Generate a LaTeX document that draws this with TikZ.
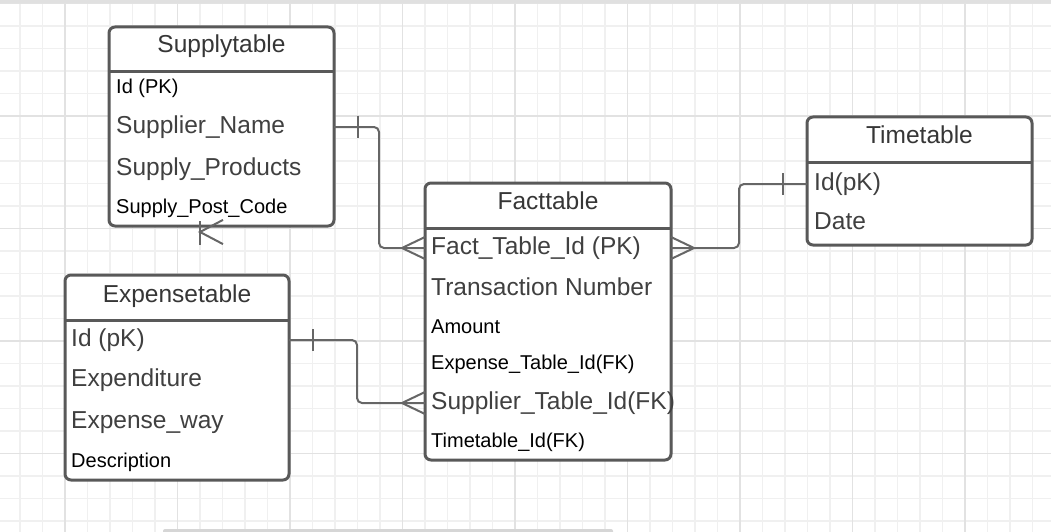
\documentclass[tikz,border=0pt]{standalone}
\usepackage{fontspec}
\setmainfont{Liberation Sans}
\usepackage{tikz}
\usetikzlibrary{%
  calc,%
  positioning% wg. " of "
}
\definecolor{boxgray}{HTML}{595959}
\definecolor{linkgray}{HTML}{666666}
\definecolor{headgray}{HTML}{363636}
\definecolor{rowgray}{HTML}{404040}
\definecolor{gridminor}{HTML}{F0F0F0}
\definecolor{gridmajor}{HTML}{E2E2E2}
\tikzset{%
  tablebox/.style={draw=boxgray, line width=3pt, rounded corners=6pt, fill=white,
    inner sep=0, outer sep=0, anchor=north west},
  boxline/.style={draw=boxgray, line width=3pt},
  headtext/.style={font=\fontsize{24.5}{28}\selectfont, text=headgray, anchor=base, inner sep=0},
  bigrow/.style={font=\fontsize{24.5}{28}\selectfont, text=rowgray, anchor=base west,
    inner sep=0, text height=17pt, text depth=5pt},
  smallrow/.style={font=\fontsize{20}{24}\selectfont, text=black, anchor=base west,
    inner sep=0, text height=14pt, text depth=4pt},
  link/.style={draw=linkgray, line width=2pt, rounded corners=5pt},
  linkend/.style={draw=linkgray, line width=2pt, sharp corners},
  crowfoot/.pic={\path[linkend] (0,-11) -- (-23,0) -- (0,11);},% many
  onebar/.pic={\path[linkend] (24,-11) -- (24,11);}% one
}

\begin{document}
\begin{tikzpicture}[x=1pt,y=-1pt]
  \useasboundingbox (0,0) rectangle (1051,532);

  % background grid
  \foreach \gx in {20,42.5,...,1051} {\path[draw=gridminor,line width=1.2pt] (\gx,0) -- (\gx,532);}
  \foreach \gy in {3.5,26,...,532} {\path[draw=gridminor,line width=1.2pt] (0,\gy) -- (1051,\gy);}
  \foreach \gx in {65,177.5,...,1051} {\path[draw=gridmajor,line width=1.4pt] (\gx,0) -- (\gx,532);}
  \foreach \gy in {3.5,116,...,532} {\path[draw=gridmajor,line width=1.4pt] (0,\gy) -- (1051,\gy);}
  \fill[black!12] (0,0) rectangle (1051,3);
  \fill[black!16, rounded corners=2pt] (163,529) rectangle (613,536);

  % tables
  \node[tablebox, minimum width=225pt, minimum height=199pt] (supply) at (109,27) {};
  \node[tablebox, minimum width=225pt, minimum height=128pt] (time) at (807,117) {};
  \node[tablebox, minimum width=246pt, minimum height=277pt] (fact) at (425,183) {};
  \node[tablebox, minimum width=224pt, minimum height=205pt] (expense) at (65,275) {};

  \path[boxline] ([yshift=-45pt]supply.north west) -- ([yshift=-45pt]supply.north east);
  \path[boxline] ([yshift=-45pt]time.north west) -- ([yshift=-45pt]time.north east);
  \path[boxline] ([yshift=-45pt]fact.north west) -- ([yshift=-45pt]fact.north east);
  \path[boxline] ([yshift=-45pt]expense.north west) -- ([yshift=-45pt]expense.north east);

  % Supplytable
  \node[headtext] (supplyhead) at (221.5,53) {Supplytable};
  \node[smallrow] (supid) at (116,94) {Id (PK)};
  \node[bigrow] (supname) at (116,133) {Supplier\_Name};
  \node[bigrow] (supprod) at (116,175) {Supply\_Products};
  \node[smallrow] (suppost) at (116,213) {Supply\_Post\_Code};

  % Timetable
  \node[headtext] (timehead) at (919.5,143) {Timetable};
  \node[bigrow] (timeid) at (814,190) {Id(pK)};
  \node[bigrow] (timedate) at (814,229) {Date};

  % Facttable
  \node[headtext] (facthead) at (548,209) {Facttable};
  \node[bigrow] (factid) at (431,254) {Fact\_Table\_Id (PK)};
  \node[bigrow] (facttrans) at (431,295) {Transaction Number};
  \node[smallrow] (factamount) at (431,333) {Amount};
  \node[smallrow] (expfk) at (431,369) {Expense\_Table\_Id(FK)};
  \node[bigrow] (supfk) at (431,409) {Supplier\_Table\_Id(FK)};
  \node[smallrow] (timefk) at (431,447) {Timetable\_Id(FK)};

  % Expensetable
  \node[headtext] (expensehead) at (177,302) {Expensetable};
  \node[bigrow] (expid) at (71,346) {Id (pK)};
  \node[bigrow] (expspend) at (71,386) {Expenditure};
  \node[bigrow] (expway) at (71,428) {Expense\_way};
  \node[smallrow] (expdesc) at (71,467) {Description};

  % relations
  \path[link] (supply.east |- supname) -| ([xshift=45pt]supply.east |- factid) -- (fact.west |- factid);
  \path[link] (fact.east |- factid) -| ([xshift=68pt]fact.east |- timeid) -- (time.west |- timeid);
  \path[link] (expense.east |- expid) -| ([xshift=68pt]expense.east |- supfk) -- (fact.west |- supfk);

  \pic at (supply.east |- supname) {onebar};
  \pic at (fact.west |- factid) {crowfoot};
  \pic[xscale=-1] at (fact.east |- factid) {crowfoot};
  \pic[xscale=-1] at (time.west |- timeid) {onebar};
  \pic at (expense.east |- expid) {onebar};
  \pic at (fact.west |- supfk) {crowfoot};

  % loose end below Supplytable
  \coordinate (loose) at (223,232);
  \pic[yscale=1.1] at (loose) {crowfoot};
  \path[linkend] ([xshift=-23pt,yshift=11pt]loose) -- ([xshift=-23pt,yshift=-13pt]loose);
\end{tikzpicture}
\end{document}
